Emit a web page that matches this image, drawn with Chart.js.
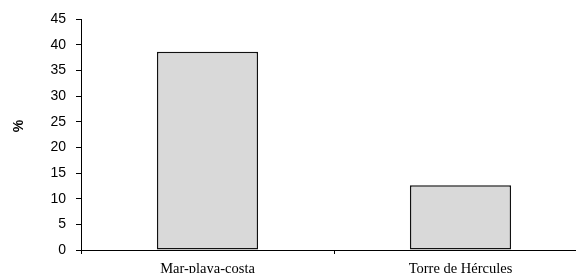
<!DOCTYPE html>
<html>
<head>
<meta charset="utf-8">
<script src="https://cdn.jsdelivr.net/npm/chart.js@4"></script>
<style>
  html, body { margin: 0; padding: 0; background: #fff; overflow: hidden; }
  #wrap { width: 590px; height: 273px; }
</style>
</head>
<body>
<div id="wrap"><canvas id="chart"></canvas></div>
<script>
const categories = ['Mar-playa-costa', 'Torre de Hércules'];
const percentValues = [38.6, 12.6];
const yMin = 0;
const yMax = 45;
const yStep = 5;
const yAxisLabel = '%';

// rotated "%" sits a bit above the middle of the axis in the original
const yLabelPlugin = {
  id: 'yLabel',
  afterDraw(chart) {
    const ctx = chart.ctx;
    ctx.save();
    ctx.translate(19, 126);
    ctx.rotate(-Math.PI / 2);
    ctx.font = 'bold 14px "Liberation Sans", Arial, sans-serif';
    ctx.fillStyle = '#000';
    ctx.textAlign = 'center';
    ctx.textBaseline = 'middle';
    ctx.fillText(yAxisLabel, 0, 0);
    ctx.restore();
  }
};

new Chart(document.getElementById('chart'), {
  type: 'bar',
  data: {
    labels: categories,
    datasets: [{
      data: percentValues,
      backgroundColor: '#d9d9d9',
      borderColor: '#111',
      borderWidth: 1.5,
      borderSkipped: false,
      categoryPercentage: 1,
      barPercentage: 0.4
    }]
  },
  options: {
    responsive: true,
    maintainAspectRatio: false,
    animation: false,
    layout: { padding: { top: 19, right: 3, left: 0, bottom: 0 } },
    plugins: {
      legend: { display: false },
      tooltip: { enabled: false }
    },
    scales: {
      x: {
        grid: { drawOnChartArea: false, drawTicks: true, tickLength: 4, color: '#000', offset: true },
        border: { color: '#000', width: 1 },
        ticks: {
          color: '#000',
          padding: 6,
          maxRotation: 0,
          font: { family: '"Liberation Serif", "Times New Roman", serif', size: 14.5 }
        },
        afterFit(scale) { scale.height = 23; }
      },
      y: {
        min: yMin,
        max: yMax,
        grid: { drawOnChartArea: false, drawTicks: true, tickLength: 5, color: '#000' },
        border: { color: '#000', width: 1 },
        ticks: {
          stepSize: yStep,
          color: '#000',
          padding: 10,
          font: { family: '"Liberation Sans", Arial, sans-serif', size: 14 }
        },
        afterFit(scale) { scale.width = 81; }
      }
    }
  },
  plugins: [yLabelPlugin]
});
</script>
</body>
</html>
